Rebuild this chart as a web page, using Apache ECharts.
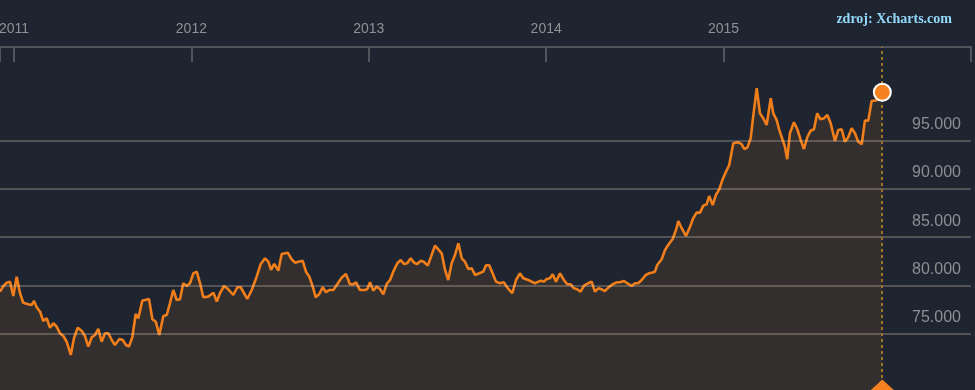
<!DOCTYPE html>
<html>
<head>
<meta charset="utf-8">
<script src="https://cdn.jsdelivr.net/npm/echarts@6/dist/echarts.min.js"></script>
<style>
html,body{margin:0;padding:0;background:#1f2530;}
#chart{width:975px;height:390px;}
</style>
</head>
<body>
<div id="chart"></div>
<script>
// decimal years
const times = [2010.921,2010.940,2010.959,2010.977,2010.987,2010.996,2011.015,2011.034,2011.052,2011.081,2011.100,2011.113,2011.128,2011.147,2011.165,2011.184,2011.203,2011.222,2011.241,2011.259,2011.278,2011.297,2011.320,2011.338,2011.359,2011.382,2011.400,2011.419,2011.438,2011.457,2011.475,2011.494,2011.513,2011.532,2011.551,2011.569,2011.594,2011.613,2011.631,2011.648,2011.667,2011.686,2011.701,2011.723,2011.761,2011.780,2011.799,2011.819,2011.842,2011.861,2011.879,2011.898,2011.917,2011.936,2011.954,2011.974,2011.992,2012.011,2012.030,2012.049,2012.067,2012.095,2012.124,2012.143,2012.161,2012.184,2012.208,2012.236,2012.259,2012.278,2012.297,2012.315,2012.340,2012.368,2012.391,2012.415,2012.434,2012.449,2012.467,2012.490,2012.509,2012.543,2012.565,2012.584,2012.603,2012.627,2012.646,2012.665,2012.684,2012.701,2012.721,2012.740,2012.759,2012.777,2012.800,2012.828,2012.847,2012.871,2012.894,2012.913,2012.928,2012.950,2012.979,2012.992,2013.007,2013.025,2013.045,2013.063,2013.082,2013.101,2013.120,2013.138,2013.161,2013.180,2013.198,2013.217,2013.236,2013.255,2013.273,2013.294,2013.313,2013.332,2013.351,2013.373,2013.392,2013.411,2013.430,2013.448,2013.467,2013.486,2013.505,2013.524,2013.542,2013.561,2013.580,2013.599,2013.623,2013.645,2013.661,2013.679,2013.698,2013.717,2013.740,2013.762,2013.777,2013.792,2013.809,2013.830,2013.852,2013.871,2013.899,2013.918,2013.937,2013.956,2013.971,2013.988,2014.003,2014.021,2014.037,2014.055,2014.078,2014.100,2014.119,2014.138,2014.157,2014.175,2014.194,2014.213,2014.237,2014.256,2014.275,2014.294,2014.313,2014.331,2014.350,2014.375,2014.397,2014.416,2014.439,2014.463,2014.482,2014.501,2014.519,2014.542,2014.561,2014.580,2014.595,2014.613,2014.626,2014.651,2014.670,2014.688,2014.713,2014.732,2014.745,2014.764,2014.788,2014.811,2014.829,2014.848,2014.867,2014.886,2014.905,2014.919,2014.939,2014.957,2014.976,2014.995,2015.014,2015.032,2015.055,2015.083,2015.102,2015.117,2015.134,2015.153,2015.167,2015.187,2015.205,2015.224,2015.243,2015.266,2015.280,2015.299,2015.314,2015.333,2015.346,2015.359,2015.374,2015.397,2015.416,2015.435,2015.453,2015.472,2015.491,2015.510,2015.528,2015.547,2015.566,2015.585,2015.604,2015.628,2015.647,2015.666,2015.684,2015.703,2015.722,2015.741,2015.759,2015.779,2015.797,2015.816,2015.835,2015.854,2015.872,2015.895];

const prices = [79370,79960,80300,80410,80240,78930,80920,79210,78230,78070,78000,78410,77760,77300,76340,76620,75650,76110,75750,75070,74790,74200,72830,74560,75650,75310,74790,73690,74660,74900,75520,74200,75070,75070,74380,73860,74480,74380,73860,73690,74660,77070,76620,78440,78620,76520,76270,74900,76860,76960,78170,79550,78510,78590,80240,79960,80240,81270,81440,80240,78790,78860,79270,78340,79210,79960,79620,79030,79830,79830,79210,78620,79550,80920,82240,82820,82470,81620,82240,81540,83270,83400,82720,82370,82470,82580,81440,80920,79890,78790,79130,79830,79310,79550,79550,80300,80820,81200,80140,80140,80340,79550,79550,79650,80340,79480,79890,79650,79100,80170,80580,81440,82310,82650,82240,82310,82820,82370,82240,82580,82410,82060,82990,84130,83750,83340,81620,80580,82310,83170,84370,82820,82470,81720,81790,81100,81270,81440,82100,82100,81270,80410,80240,80340,79890,79550,79210,80580,81270,80760,80580,80410,80240,80410,80510,80410,80680,80760,81170,80410,81270,80580,80140,80140,79720,79620,79370,79990,80240,80410,79370,79720,79620,79440,79790,80140,80340,80340,80480,80170,79960,80240,80240,80650,81100,81270,81340,81440,82130,82720,83680,84200,84820,85750,86680,85930,85130,86090,86960,87540,87540,88260,88410,89260,88330,89370,89960,90990,91780,92470,94710,94810,94610,94120,94260,95230,97460,100400,97810,97290,96600,99360,97810,97120,96090,95050,94360,93060,95740,96880,96160,95050,94120,95330,96010,96160,97810,97190,97290,97640,96780,94950,96090,96160,94880,95330,96260,95740,94880,94610,97050,97050,99110,99110,99260,99980];

const yearTicks = [2011, 2012, 2013, 2014, 2015];
const priceTicks = [75000, 80000, 85000, 90000, 95000];
const xRange = [2010.921, 2016.395];
const yRange = [69210, 104660];

const seriesData = times.map((t, i) => [t, prices[i]]);
const last = seriesData[seriesData.length - 1];

const chart = echarts.init(document.getElementById('chart'));
chart.setOption({
  backgroundColor: '#1f2530',
  animation: false,
  title: {
    text: 'zdroj: Xcharts.com',
    right: 23, top: 12, padding: 0,
    textStyle: {fontFamily: 'Liberation Serif', fontWeight: 'bold', fontSize: 14, color: '#94d8fb'}
  },
  grid: {left: 0, right: 4, top: 47, bottom: 0, containLabel: false, outerBoundsMode: 'none'},
  xAxis: {
    type: 'value', position: 'top',
    min: xRange[0], max: xRange[1],
    axisLine: {show: true, lineStyle: {color: '#50545b', width: 2}},
    axisTick: {show: true, inside: true, length: 15, lineStyle: {color: '#50545b', width: 2},
      customValues: [xRange[0]].concat(yearTicks, [xRange[1]])},
    axisLabel: {customValues: yearTicks, formatter: v => String(Math.round(v)),
      color: '#8e9196', fontSize: 14, fontFamily: 'Liberation Sans', margin: 11},
    splitLine: {show: false}
  },
  yAxis: {
    type: 'value', position: 'right',
    min: yRange[0], max: yRange[1],
    axisLine: {show: false}, axisTick: {show: false}, splitLine: {show: false},
    axisLabel: {inside: true, customValues: priceTicks, margin: 10,
      formatter: v => (v / 1000).toFixed(3),
      color: '#8b8e93', fontSize: 16, fontFamily: 'Liberation Sans',
      verticalAlign: 'bottom', padding: [0, 0, 8, 0]}
  },
  series: [
    {
      type: 'line', data: [], silent: true,
      markLine: {
        silent: true, symbol: ['none', 'none'],
        label: {show: false},
        lineStyle: {color: 'rgba(255,232,205,0.24)', width: 2, type: 'solid'},
        data: priceTicks.map(v => ({yAxis: v}))
      }
    },
    {
      type: 'line', data: seriesData, showSymbol: false, silent: true, z: 2,
      lineStyle: {color: '#f07e1a', width: 2.6},
      areaStyle: {color: 'rgba(125,82,40,0.31)'},
      markPoint: {
        silent: true, z: 7,
        symbol: 'circle', symbolSize: 17,
        itemStyle: {color: '#f5821f', borderColor: '#ffffff', borderWidth: 2},
        label: {show: false},
        data: [{coord: last}]
      }
    },
    {
      type: 'line', data: [], silent: true,
      markLine: {
        silent: true, z: 6,
        symbol: ['none', 'none'],
        label: {show: false},
        lineStyle: {color: '#9c7424', width: 2, type: [3, 3]},
        data: [{xAxis: last[0]}]
      },
      markPoint: {
        silent: true, z: 7,
        symbol: 'diamond', symbolSize: [23, 21],
        itemStyle: {color: '#f5821f'},
        label: {show: false},
        data: [{coord: [last[0], yRange[0]]}]
      }
    }
  ]
});
</script>
</body>
</html>
